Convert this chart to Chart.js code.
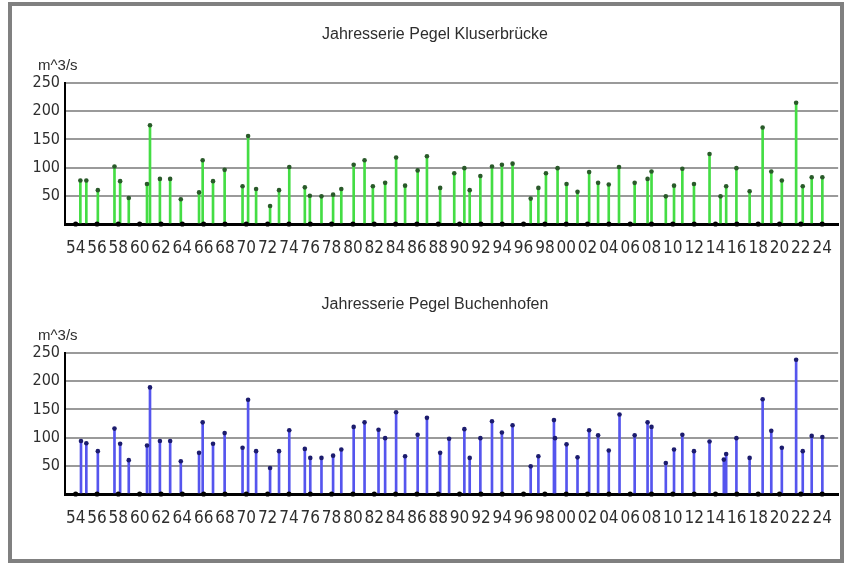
<!DOCTYPE html>
<html>
<head>
<meta charset="utf-8">
<script src="https://cdn.jsdelivr.net/npm/chart.js@4.4.1/dist/chart.umd.min.js"></script>
<style>
  html, body { margin: 0; padding: 0; background: #fff; }
  body { width: 846px; height: 565px; position: relative; overflow: hidden; }
  #frame { position: absolute; left: 8px; top: 2px; width: 828px; height: 553px; border: 4px solid #808080; }
  .panel { position: absolute; left: 0; width: 846px; height: 270px; }
  #panelTop { top: 0; }
  #panelBottom { top: 270px; }
</style>
</head>
<body>
<div id="frame"></div>
<div class="panel" id="panelTop"><canvas id="chartKluser" width="846" height="270"></canvas></div>
<div class="panel" id="panelBottom"><canvas id="chartBuchen" width="846" height="270"></canvas></div>
<script>
// ============ Data ============
const TICK_YEARS = [1954, 1956, 1958, 1960, 1962, 1964, 1966, 1968, 1970, 1972, 1974, 1976,
    1978, 1980, 1982, 1984, 1986, 1988, 1990, 1992, 1994, 1996, 1998, 2000, 2002, 2004,
    2006, 2008, 2010, 2012, 2014, 2016, 2018, 2020, 2022, 2024];
const Y_TICKS = [0, 50, 100, 150, 200, 250];

// Pegel Kluserbrücke: date of annual peak (decimal year) and peak discharge in m^3/s
const KLUSER_YEARS = [1954.44, 1955.0, 1956.08, 1957.64, 1958.17, 1958.98, 1960.69, 1960.97,
    1961.9, 1962.86, 1963.86, 1965.57, 1965.91, 1966.88, 1967.97, 1969.65, 1970.17, 1970.92,
    1972.23, 1973.07, 1974.03, 1975.49, 1975.96, 1977.05, 1978.14, 1978.91, 1980.07, 1981.09,
    1981.87, 1983.02, 1984.05, 1984.89, 1986.07, 1986.94, 1988.18, 1989.5, 1990.45, 1990.95,
    1991.95, 1993.04, 1993.97, 1994.97, 1996.67, 1997.39, 1998.1, 1999.19, 2000.03, 2001.06,
    2002.15, 2002.99, 2003.99, 2004.95, 2006.42, 2007.63, 2008.0, 2009.34, 2010.11, 2010.89,
    2011.98, 2013.44, 2014.47, 2015.0, 2015.96, 2017.2, 2018.42, 2019.23, 2020.22, 2021.56,
    2022.18, 2023.02, 2024.02];
const KLUSER_FLOWS = [77, 77, 60, 102, 76, 46, 71, 175,
    80, 80, 44, 56, 113, 76, 96, 67, 156, 62,
    32, 60, 101, 65, 50, 49, 52, 62, 105, 113,
    67, 73, 118, 68, 95, 120, 64, 90, 99, 60,
    85, 102, 105, 107, 45, 64, 90, 99, 71, 57,
    92, 73, 70, 101, 73, 80, 93, 49, 68, 98,
    71, 124, 49, 67, 99, 58, 171, 93, 77, 215,
    67, 83, 83];

// Pegel Buchenhofen
const BUCHEN_YEARS = [1954.5, 1955.0, 1956.08, 1957.64, 1958.17, 1958.98, 1960.69, 1960.97,
    1961.9, 1962.86, 1963.86, 1965.57, 1965.91, 1966.88, 1967.97, 1969.65, 1970.17, 1970.92,
    1972.23, 1973.07, 1974.03, 1975.49, 1976.0, 1977.05, 1978.14, 1978.91, 1980.07, 1981.09,
    1982.4, 1983.02, 1984.05, 1984.89, 1986.07, 1986.94, 1988.18, 1989.02, 1990.45, 1990.95,
    1991.95, 1993.04, 1993.97, 1994.97, 1996.67, 1997.39, 1998.85, 1998.95, 2000.03, 2001.06,
    2002.15, 2002.99, 2003.99, 2005.0, 2006.42, 2007.63, 2008.0, 2009.34, 2010.11, 2010.89,
    2011.98, 2013.44, 2014.78, 2015.0, 2015.96, 2017.2, 2018.42, 2019.23, 2020.22, 2021.56,
    2022.18, 2023.02, 2024.02];
const BUCHEN_FLOWS = [94, 90, 76, 116, 89, 60, 86, 189,
    94, 94, 58, 73, 127, 89, 108, 82, 167, 76,
    46, 76, 113, 80, 64, 64, 68, 79, 119, 127,
    114, 99, 145, 67, 105, 135, 73, 98, 115, 64,
    99, 129, 109, 122, 49, 67, 131, 99, 88, 65,
    113, 104, 77, 141, 104, 127, 119, 55, 79, 105,
    76, 93, 61, 71, 99, 64, 168, 112, 82, 238,
    76, 103, 101];

// ============ Configuration ============
const FONT = '"Liberation Sans", Arial, sans-serif';
const NARROW_FONT = '"Liberation Sans Narrow", "DejaVu Sans Condensed", Arial, sans-serif';
const TEXT_COLOR = '#2e2e2e';
const UNIT_LABEL = 'm^3/s';

// ============ Plugins ============
// title above the panel and the unit label above the y axis
const panelText = {
    id: 'panelText',
    afterDraw(chart, args, opts) {
        const { ctx, chartArea } = chart;
        ctx.save();
        ctx.fillStyle = TEXT_COLOR;
        ctx.textBaseline = 'middle';
        ctx.font = `16px ${FONT}`;
        ctx.textAlign = 'center';
        ctx.fillText(opts.title, 435, 35);
        ctx.font = `15px ${FONT}`;
        ctx.textAlign = 'left';
        ctx.fillText(UNIT_LABEL, 38, chartArea.top - 17);
        ctx.restore();
    }
};

const toPoints = (xs, ys) => xs.map((x, i) => ({ x, y: ys[i] }));

function buildChart(canvasId, title, years, flows, stemColor, capColor) {
    const stems = toPoints(years, flows);
    const axisDots = TICK_YEARS.map(x => ({ x, y: 0 }));

    return new Chart(document.getElementById(canvasId), {
        type: 'bar',
        data: {
            datasets: [
                { type: 'scatter', data: axisDots, pointRadius: 2.6, pointBorderWidth: 0,
                  backgroundColor: '#000', clip: false, order: 1 },
                { type: 'scatter', data: stems, pointRadius: 2.3, pointBorderWidth: 0,
                  backgroundColor: capColor, clip: false, order: 2 },
                { type: 'bar', data: stems, backgroundColor: stemColor, barThickness: 2,
                  grouped: false, order: 3 }
            ]
        },
        options: {
            responsive: false,
            animation: false,
            layout: { padding: { left: 0, right: 6, top: 83, bottom: 0 } },
            plugins: {
                legend: { display: false },
                tooltip: { enabled: false },
                panelText: { title }
            },
            scales: {
                x: {
                    type: 'linear',
                    min: 1953,
                    max: 2025.5,
                    offset: false,
                    grid: { display: false, drawTicks: false },
                    border: { color: '#000', width: 3 },
                    afterBuildTicks: axis => { axis.ticks = TICK_YEARS.map(v => ({ value: v })); },
                    afterFit: axis => { axis.height = 46; },
                    ticks: {
                        autoSkip: false,
                        maxRotation: 0,
                        padding: 14,
                        color: TEXT_COLOR,
                        font: { size: 17, family: NARROW_FONT },
                        callback: v => String(v % 100).padStart(2, '0')
                    }
                },
                y: {
                    min: 0,
                    max: 250,
                    afterBuildTicks: axis => { axis.ticks = Y_TICKS.map(v => ({ value: v })); },
                    afterFit: axis => { axis.width = 65; },
                    border: { color: '#000', width: 2 },
                    grid: {
                        color: c => (c.tick && c.tick.value === 0 ? 'rgba(0,0,0,0)' : '#9a9a9a'),
                        lineWidth: 2,
                        drawTicks: false
                    },
                    ticks: {
                        padding: 5,
                        color: TEXT_COLOR,
                        font: { size: 16, family: NARROW_FONT },
                        callback: v => (v === 0 ? '' : v)
                    }
                }
            }
        },
        plugins: [panelText]
    });
}

// ============ Initialize ============
buildChart('chartKluser', 'Jahresserie Pegel Kluserbrücke', KLUSER_YEARS, KLUSER_FLOWS, '#44dd44', '#2a5a2a');
buildChart('chartBuchen', 'Jahresserie Pegel Buchenhofen', BUCHEN_YEARS, BUCHEN_FLOWS, '#5555ee', '#1c1c6e');
</script>
</body>
</html>
